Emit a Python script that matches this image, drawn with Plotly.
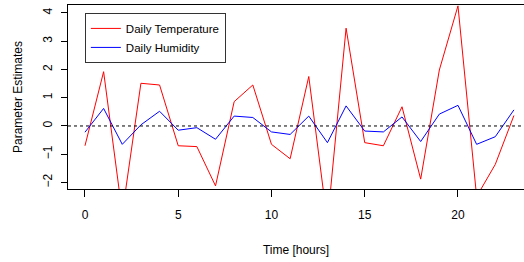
import plotly.graph_objects as go

hours = list(range(24))
temperature = [-0.70, 1.92, -3.10, 1.51, 1.45, -0.70, -0.73, -2.12, 0.86, 1.45, -0.65, -1.16,
               1.75, -3.42, 3.46, -0.59, -0.70, 0.68, -1.88, 1.98, 4.25, -2.50, -1.36, 0.37]
humidity = [-0.22, 0.62, -0.65, 0.04, 0.52, -0.15, -0.06, -0.47, 0.35, 0.30, -0.21, -0.30,
            0.35, -0.59, 0.71, -0.18, -0.21, 0.32, -0.55, 0.42, 0.73, -0.65, -0.38, 0.57]
x_ticks = [0, 5, 10, 15, 20]
y_ticks = [-2, -1, 0, 1, 2, 3, 4]
y_tick_labels = ["\u22122", "\u22121", "0", "1", "2", "3", "4"]

font = "Liberation Sans, Arial, sans-serif"

fig = go.Figure()
fig.add_trace(go.Scatter(x=hours, y=temperature, mode="lines", name="Daily Temperature",
                         line=dict(color="#ff0000", width=1)))
fig.add_trace(go.Scatter(x=hours, y=humidity, mode="lines", name="Daily Humidity",
                         line=dict(color="#0000ff", width=1)))
fig.add_hline(y=0, line=dict(color="black", width=1, dash="3px,3px"))

fig.update_layout(
    width=524, height=262,
    margin=dict(l=68, r=0, t=5, b=73, autoexpand=False),
    paper_bgcolor="white", plot_bgcolor="white",
    font=dict(family=font, size=12, color="black"),
    showlegend=True,
    legend=dict(x=0.037, y=0.957, xanchor="left", yanchor="top",
                bordercolor="#333333", borderwidth=1, bgcolor="white",
                font=dict(size=11.5), tracegroupgap=0),
    xaxis=dict(range=[-0.91, 23.54], tickvals=x_ticks, ticks="outside", ticklen=7,
               tickcolor="black", showline=True, linecolor="black", linewidth=1,
               mirror=True, showgrid=False, zeroline=False, automargin=False,
               title=dict(text="Time [hours]", standoff=24, font=dict(size=12)),
               ticklabelstandoff=8),
    yaxis=dict(range=[-2.23, 4.28], tickvals=y_ticks, ticktext=y_tick_labels,
               ticks="outside", ticklen=6, tickcolor="black", tickangle=-90,
               showline=True, linecolor="black", linewidth=1, showgrid=False,
               zeroline=False, automargin=False,
               title=dict(text="Parameter Estimates", standoff=16, font=dict(size=12)),
               ticklabelstandoff=4),
)

fig.write_html("out.html", config={"displayModeBar": False},
               post_script="document.body.style.margin='0px';")
